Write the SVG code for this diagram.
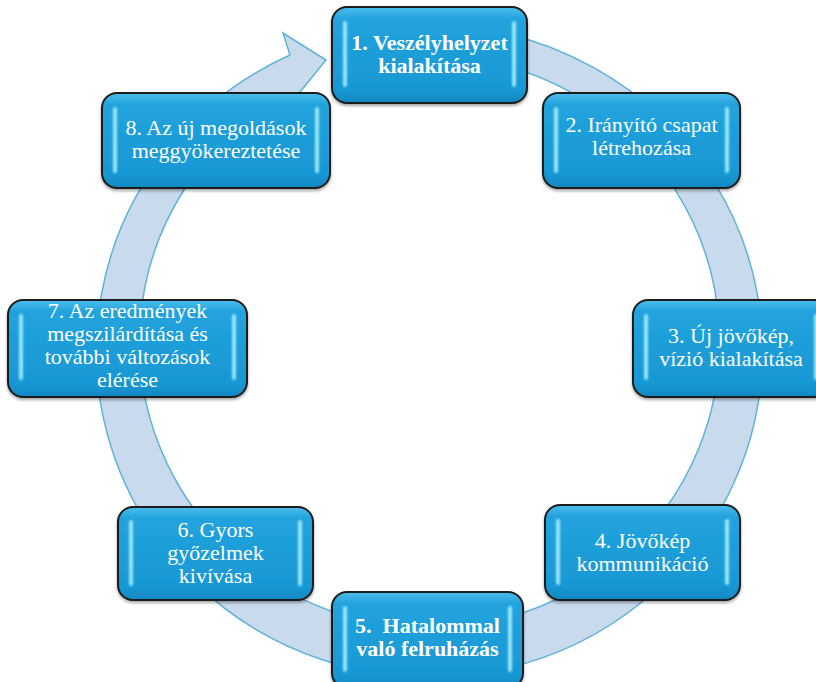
<svg xmlns="http://www.w3.org/2000/svg" width="816" height="682" viewBox="0 0 816 682">
<defs>
<linearGradient id="nodeFill" x1="0" y1="0" x2="0" y2="1">
<stop offset="0" stop-color="#4cbdec"/>
<stop offset="0.12" stop-color="#22a3dd"/>
<stop offset="0.85" stop-color="#1898d4"/>
<stop offset="1" stop-color="#1088c2"/>
</linearGradient>
<filter id="shadow" x="-10%" y="-10%" width="120%" height="125%">
<feDropShadow dx="0" dy="2" stdDeviation="1.5" flood-color="#000" flood-opacity="0.35"/>
</filter>
<filter id="glow" x="-100%" y="-10%" width="300%" height="120%">
<feGaussianBlur stdDeviation="0.8"/>
</filter>
<style>
.box{fill:url(#nodeFill);stroke:#1c1c1c;stroke-width:2;filter:url(#shadow)}
.bar{fill:#a6efff;opacity:0.9;filter:url(#glow)}
.t{font-family:"Liberation Serif","Times New Roman",serif;font-size:22px;fill:#ffffff;text-anchor:middle}
.b{font-weight:bold}
.ring{fill:#c9daed;stroke:#5fb2d8;stroke-width:1.5;stroke-linejoin:miter}
</style>
</defs>
<rect width="816" height="682" fill="#ffffff"/>
<g id="connectors">
<path class="ring" d="M450,25.7 A333,326 0 1 1 290,55 L283,33 L326,60 L300,92 L275,100 A290,286 0 1 0 450,56.7 Z"/>
</g>
<g id="node1">
<rect class="box" x="332" y="7" width="195" height="96" rx="15"/>
<rect class="bar" x="343" y="21" width="4" height="66" rx="2"/>
<rect class="bar" x="512" y="21" width="4" height="66" rx="2"/>
<text class="t b" x="429.5" y="50">1. Veszélyhelyzet</text>
<text class="t b" x="429.5" y="73">kialakítása</text>
</g>
<g id="node2">
<rect class="box" x="543" y="93" width="197" height="95" rx="15"/>
<rect class="bar" x="554" y="107" width="4" height="66" rx="2"/>
<rect class="bar" x="725" y="107" width="4" height="66" rx="2"/>
<text class="t" x="641.5" y="132">2. Irányító csapat</text>
<text class="t" x="641.5" y="155">létrehozása</text>
</g>
<g id="node3">
<rect class="box" x="633" y="300" width="196" height="97" rx="15"/>
<rect class="bar" x="644" y="314" width="4" height="66" rx="2"/>
<rect class="bar" x="814" y="314" width="4" height="66" rx="2"/>
<text class="t" x="731" y="343">3. Új jövőkép,</text>
<text class="t" x="731" y="366">vízió kialakítása</text>
</g>
<g id="node4">
<rect class="box" x="545" y="505" width="195" height="95" rx="15"/>
<rect class="bar" x="556" y="519" width="4" height="66" rx="2"/>
<rect class="bar" x="725" y="519" width="4" height="66" rx="2"/>
<text class="t" x="642.5" y="548">4. Jövőkép</text>
<text class="t" x="642.5" y="571">kommunikáció</text>
</g>
<g id="node5">
<rect class="box" x="332" y="592" width="191" height="96" rx="15"/>
<rect class="bar" x="343" y="606" width="4" height="66" rx="2"/>
<rect class="bar" x="508" y="606" width="4" height="66" rx="2"/>
<text class="t b" x="427.5" y="633" xml:space="preserve">5.  Hatalommal</text>
<text class="t b" x="427.5" y="656">való felruházás</text>
</g>
<g id="node6">
<rect class="box" x="118" y="507" width="195" height="93" rx="15"/>
<rect class="bar" x="129" y="520" width="4" height="66" rx="2"/>
<rect class="bar" x="298" y="520" width="4" height="66" rx="2"/>
<text class="t" x="215.5" y="537">6. Gyors</text>
<text class="t" x="215.5" y="560">győzelmek</text>
<text class="t" x="215.5" y="583">kivívása</text>
</g>
<g id="node7">
<rect class="box" x="8" y="300" width="239" height="97" rx="15"/>
<rect class="bar" x="19" y="314" width="4" height="66" rx="2"/>
<rect class="bar" x="232" y="314" width="4" height="66" rx="2"/>
<text class="t" x="127.5" y="318">7. Az eredmények</text>
<text class="t" x="127.5" y="341">megszilárdítása és</text>
<text class="t" x="127.5" y="364">további változások</text>
<text class="t" x="127.5" y="387">elérése</text>
</g>
<g id="node8">
<rect class="box" x="102" y="93" width="228" height="95" rx="15"/>
<rect class="bar" x="113" y="107" width="4" height="66" rx="2"/>
<rect class="bar" x="315" y="107" width="4" height="66" rx="2"/>
<text class="t" x="216" y="135">8. Az új megoldások</text>
<text class="t" x="216" y="158">meggyökereztetése</text>
</g>
</svg>
